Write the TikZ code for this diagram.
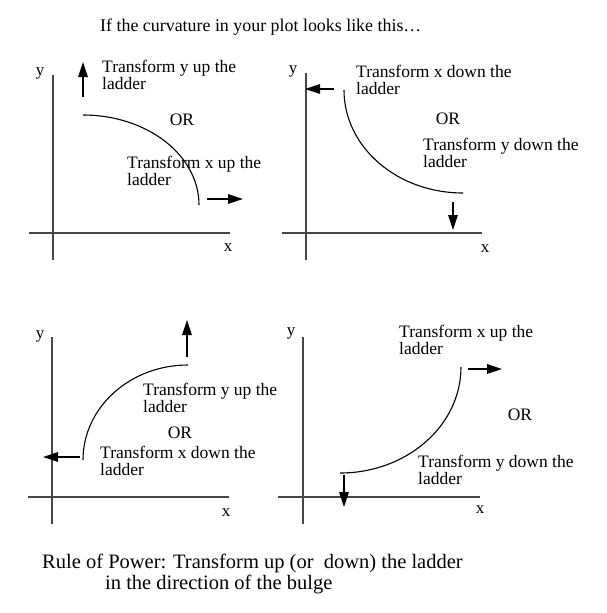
\documentclass[tikz,border=0pt]{standalone}
\usepackage{fontspec}
\setmainfont{Liberation Serif}
\usetikzlibrary{arrows.meta}
\begin{document}
\begin{tikzpicture}[x=1pt,y=-1pt,
  lbl/.style={inner sep=0pt,font=\fontsize{17.5}{17}\selectfont},
  blk/.style={lbl,align=left,anchor=north west},
  axislbl/.style={inner sep=0pt,font=\fontsize{17}{17}\selectfont},
  axisline/.style={draw=black!72,line width=1.6pt},
  curveline/.style={draw=black,line width=1.1pt},
  pusharrow/.style={draw=black,line width=1.3pt,-{Triangle[length=15pt,width=9.5pt]}},
  captxt/.style={inner sep=0pt,anchor=west,font=\fontsize{20.5}{21}\selectfont}]
\useasboundingbox (0,0) rectangle (606,613);
\fill[white] (0,0) rectangle (606,613);

% title
\node[inner sep=0pt,anchor=west,font=\fontsize{17.9}{18}\selectfont] (title) at (100,27) {If the curvature in your plot looks like this\ldots};

% ---------- panel 1 ----------
\coordinate (p1yt) at (53,75);  \coordinate (p1yb) at (53,260);
\coordinate (p1xl) at (29,233); \coordinate (p1xr) at (230,233);
\draw[axisline] (p1yt) -- (p1yb);
\draw[axisline] (p1xl) -- (p1xr);
\node[axislbl] (p1y) at (40,73) {y};
\node[axislbl] (p1x) at (228,248) {x};
\coordinate (p1c0) at (83,115); \coordinate (p1c1) at (199,205);
\draw[curveline] (p1c0) .. controls (147,115) and (199,155) .. (p1c1);
\coordinate (p1ua) at (83,97); \coordinate (p1ub) at (83,62);
\draw[pusharrow] (p1ua) -- (p1ub);
\coordinate (p1ra) at (207,199); \coordinate (p1rb) at (243,199);
\draw[pusharrow] (p1ra) -- (p1rb);
\node[blk] (p1t1) at (102,60) {Transform y up the\\ladder};
\node[lbl] (p1or) at (182,120) {OR};
\node[blk] (p1t2) at (127,156) {Transform x up the\\ladder};

% ---------- panel 2 ----------
\coordinate (p2yt) at (306,73);  \coordinate (p2yb) at (306,260);
\coordinate (p2xl) at (282,233); \coordinate (p2xr) at (482,233);
\draw[axisline] (p2yt) -- (p2yb);
\draw[axisline] (p2xl) -- (p2xr);
\node[axislbl] (p2y) at (293,71) {y};
\node[axislbl] (p2x) at (485,249) {x};
\coordinate (p2c0) at (344,90); \coordinate (p2c1) at (463,193);
\draw[curveline] (p2c0) .. controls (344,147) and (397,193) .. (p2c1);
\coordinate (p2la) at (334,89); \coordinate (p2lb) at (305,89);
\draw[pusharrow] (p2la) -- (p2lb);
\coordinate (p2da) at (453,202); \coordinate (p2db) at (453,230);
\draw[pusharrow] (p2da) -- (p2db);
\node[blk] (p2t1) at (356,65) {Transform x down the\\ladder};
\node[lbl] (p2or) at (448,119) {OR};
\node[blk] (p2t2) at (423,138) {Transform y down the\\ladder};

% ---------- panel 3 ----------
\coordinate (p3yt) at (52,337);  \coordinate (p3yb) at (52,524);
\coordinate (p3xl) at (28,497); \coordinate (p3xr) at (229,497);
\draw[axisline] (p3yt) -- (p3yb);
\draw[axisline] (p3xl) -- (p3xr);
\node[axislbl] (p3y) at (40,336) {y};
\node[axislbl] (p3x) at (226,513) {x};
\coordinate (p3c0) at (83,460); \coordinate (p3c1) at (188,365);
\draw[curveline] (p3c0) .. controls (83,407.5) and (130,365) .. (p3c1);
\coordinate (p3ua) at (187,357); \coordinate (p3ub) at (187,320);
\draw[pusharrow] (p3ua) -- (p3ub);
\coordinate (p3la) at (80,457); \coordinate (p3lb) at (43,457);
\draw[pusharrow] (p3la) -- (p3lb);
\node[blk] (p3t1) at (143,383) {Transform y up the\\ladder};
\node[lbl] (p3or) at (180,433) {OR};
\node[blk] (p3t2) at (100,446) {Transform x down the\\ladder};

% ---------- panel 4 ----------
\coordinate (p4yt) at (303,337);  \coordinate (p4yb) at (303,524);
\coordinate (p4xl) at (278,497); \coordinate (p4xr) at (480,497);
\draw[axisline] (p4yt) -- (p4yb);
\draw[axisline] (p4xl) -- (p4xr);
\node[axislbl] (p4y) at (291,333) {y};
\node[axislbl] (p4x) at (480,510) {x};
\coordinate (p4c0) at (461,367); \coordinate (p4c1) at (340,473);
\draw[curveline] (p4c0) .. controls (461,425.5) and (407,473) .. (p4c1);
\coordinate (p4ra) at (468,369); \coordinate (p4rb) at (502,369);
\draw[pusharrow] (p4ra) -- (p4rb);
\coordinate (p4da) at (344,475); \coordinate (p4db) at (344,507);
\draw[pusharrow] (p4da) -- (p4db);
\node[blk] (p4t1) at (399,325) {Transform x up the\\ladder};
\node[lbl] (p4or) at (520,415) {OR};
\node[blk] (p4t2) at (418,455) {Transform y down the\\ladder};

% caption
\node[captxt] (cap1) at (42,563) {Rule of Power: Transform up (or\ \ down) the ladder};
\node[captxt] (cap2) at (105,584) {in the direction of the bulge};
\end{tikzpicture}
\end{document}
